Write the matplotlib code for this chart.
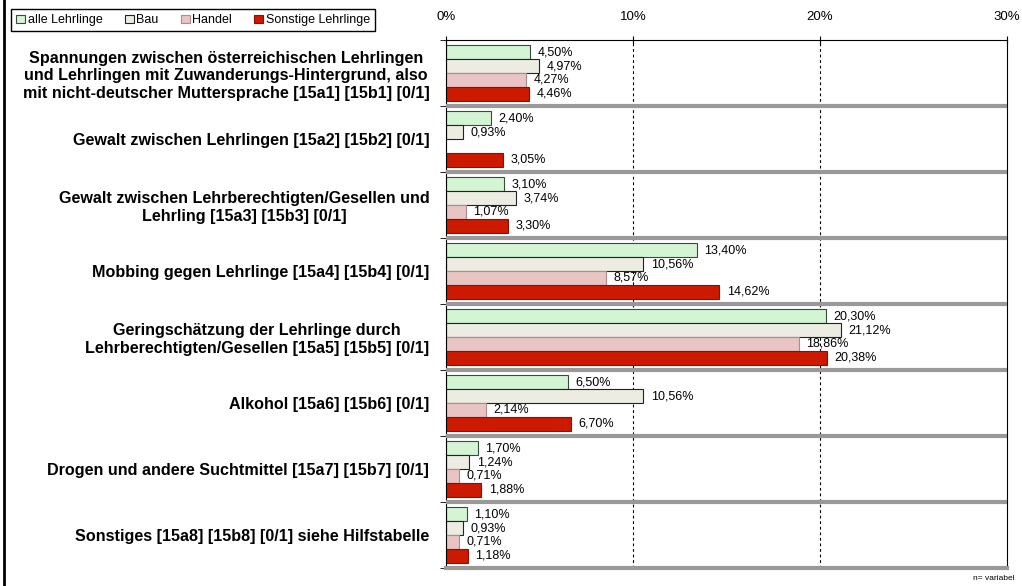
import numpy as np
import matplotlib.pyplot as plt
from matplotlib.lines import Line2D

plt.rcParams['font.family'] = ['Liberation Sans', 'DejaVu Sans']

categories = [
    'Spannungen zwischen österreichischen Lehrlingen\nund Lehrlingen mit Zuwanderungs-Hintergrund, also\nmit nicht-deutscher Muttersprache [15a1] [15b1] [0/1]',
    'Gewalt zwischen Lehrlingen [15a2] [15b2] [0/1]',
    'Gewalt zwischen Lehrberechtigten/Gesellen und\nLehrling [15a3] [15b3] [0/1]',
    'Mobbing gegen Lehrlinge [15a4] [15b4] [0/1]',
    'Geringschätzung der Lehrlinge durch\nLehrberechtigten/Gesellen [15a5] [15b5] [0/1]',
    'Alkohol [15a6] [15b6] [0/1]',
    'Drogen und andere Suchtmittel [15a7] [15b7] [0/1]',
    'Sonstiges [15a8] [15b8] [0/1] siehe Hilfstabelle',
]
series = ['alle Lehrlinge', 'Bau', 'Handel', 'Sonstige Lehrlinge']
alle = [4.50, 2.40, 3.10, 13.40, 20.30, 6.50, 1.70, 1.10]
bau = [4.97, 0.93, 3.74, 10.56, 21.12, 10.56, 1.24, 0.93]
handel = [4.27, np.nan, 1.07, 8.57, 18.86, 2.14, 0.71, 0.71]
sonstige = [4.46, 3.05, 3.30, 14.62, 20.38, 6.70, 1.88, 1.18]

colors = ['#d4f5d4', '#ecece2', '#e8c4c4', '#cc1a00']
edges = ['#3a4a3a', '#222222', '#b08a8a', '#8a1000']

fig = plt.figure(figsize=(10.22, 5.86), dpi=100)
ax = fig.add_axes([446 / 1022, 1 - 568 / 586, 561 / 1022, 528 / 586])

n = len(categories)
y = np.arange(n)
h = 0.21
for j, (vals, name) in enumerate(zip([alle, bau, handel, sonstige], series)):
    vals = np.array(vals)
    pos = y + (j - 1.5) * h
    ax.barh(pos, np.nan_to_num(vals), height=h, color=colors[j],
            edgecolor=edges[j], linewidth=0.8, label=name)
    for p, v in zip(pos, vals):
        if np.isnan(v):
            continue
        ax.text(v + 0.4, p, f'{v:.2f}%'.replace('.', ','), va='center',
                ha='left', fontsize=9)

ax.set_xlim(0, 30)
ax.set_ylim(n - 0.5, -0.5)
ax.xaxis.tick_top()
ax.set_xticks([0, 10, 20, 30])
ax.set_xticklabels(['0%', '10%', '20%', '30%'], fontsize=9.5)
ax.tick_params(axis='x', direction='inout', length=6, pad=9)
for xv in [10, 20]:
    ax.axvline(xv, color='black', linestyle=(0, (2.5, 2.5)), linewidth=0.8, zorder=0)

# separators between groups
for b in np.arange(0.5, n - 0.5, 1):
    ax.axhline(b, color='#999999', linewidth=3, zorder=3)

ax.set_yticks(y)
ax.set_yticklabels(categories, fontsize=11.6, fontweight='bold', ha='right',
                   multialignment='center')
ax.tick_params(axis='y', length=0, pad=12)
ax.set_yticks(np.arange(-0.5, n, 1), minor=True)
ax.tick_params(axis='y', which='minor', length=4, direction='out')

for s in ['top', 'left', 'right']:
    ax.spines[s].set_color('black')
    ax.spines[s].set_linewidth(0.8)
ax.spines['bottom'].set_color('#999999')
ax.spines['bottom'].set_linewidth(3)

fig.legend(loc='upper left', bbox_to_anchor=(5 / 1022, 1 - 3 / 586), ncol=4,
           fontsize=9, frameon=True, fancybox=False, edgecolor='black',
           handlelength=0.7, handleheight=0.7, handletextpad=0.2,
           columnspacing=1.8, borderpad=0.4, framealpha=1)

fig.text(1015 / 1022, 1 - 578 / 586, 'n= variabel', fontsize=6, ha='right', va='center')
fig.add_artist(Line2D([4 / 1022, 4 / 1022], [0, 1], color='black', linewidth=2))

fig.savefig('out.png', dpi=100)
